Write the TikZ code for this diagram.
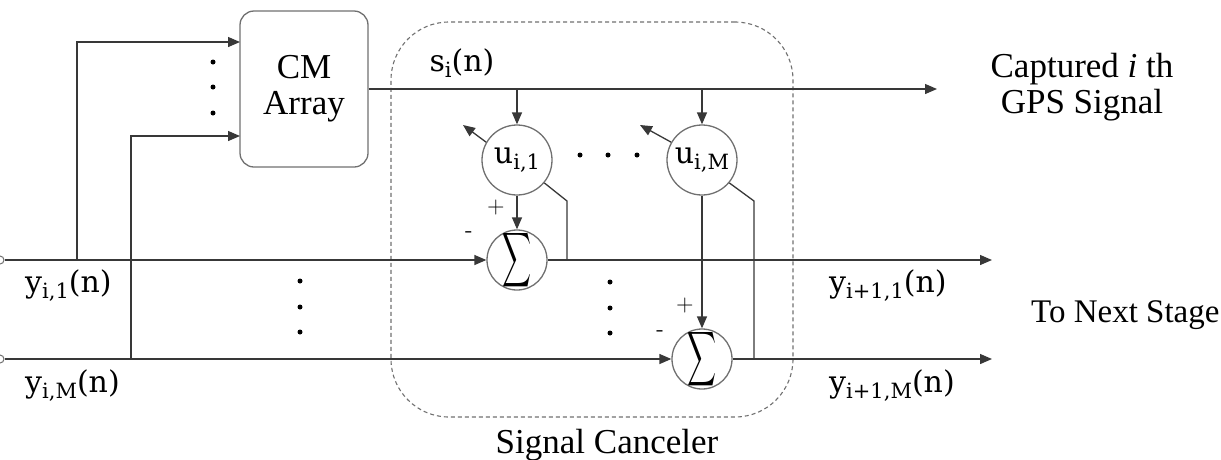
\documentclass[tikz,border=0pt]{standalone}
\usepackage{fontspec}
\setmainfont{Liberation Serif}
\newfontfamily\sigfont{DejaVu Serif}
\usetikzlibrary{arrows.meta}
\definecolor{wire}{HTML}{383838}
\definecolor{rim}{HTML}{707070}
% lowered index used in the signal names
\newcommand\lowidx[1]{\raisebox{-6pt}{\fontsize{21}{21}\selectfont #1}}
\begin{document}
\begin{tikzpicture}[x=1pt,y=-1pt,
  wire/.style={draw=wire, line width=1.3pt},
  arr/.style={wire, -{Triangle[length=12pt,width=10pt]}},
  cmbox/.style={draw=rim, line width=1.3pt, rounded corners=14pt, minimum width=128pt,
    minimum height=156pt, align=center, font=\fontsize{35}{36}\selectfont},
  wcircle/.style={circle, draw=rim, line width=1.3pt, minimum size=70pt, inner sep=0pt,
    font=\sigfont\fontsize{30}{30}\selectfont},
  sumcircle/.style={circle, draw=rim, line width=1.3pt, minimum size=60pt, inner sep=0pt},
  sumsign/.style={inner sep=0pt},
  port/.style={circle, draw=rim, line width=1pt, fill=white, minimum size=8pt, inner sep=0pt},
  lbl/.style={font=\sigfont\fontsize{30}{30}\selectfont, inner sep=0pt},
  txt/.style={font=\fontsize{35}{36}\selectfont, align=center, inner sep=0pt},
  sign/.style={font=\sffamily\fontsize{24}{24}\selectfont, inner sep=0pt},
  dot/.style={circle, fill=black, minimum size=5pt, inner sep=0pt},
  frame/.style={draw=rim, line width=1.1pt, dash pattern=on 4pt off 3pt, rounded corners=58pt}
]
\useasboundingbox (0,0) rectangle (1221,459);

% signal canceler frame
\node[frame, minimum width=402pt, minimum height=395pt] (canc) at (592,219.5) {};
\node[txt] (canclbl) at (607,445) {Signal Canceler};

% CM array block
\node[cmbox] (cm) at (304,89) {CM\\Array};

% weight and summing nodes
\node[wcircle] (u1) at (517,160) {u\lowidx{i,1}};
\node[wcircle] (uM) at (702,160) {u\lowidx{i,M}};
\node[sumcircle] (sum1) at (517,260) {};
\node[sumcircle] (sumM) at (702,359) {};
\node[sumsign] (sg1) at (sum1) {\resizebox{29pt}{40pt}{$\displaystyle\sum$}};
\node[sumsign] (sgM) at (sumM) {\resizebox{29pt}{40pt}{$\displaystyle\sum$}};

% input ports
\node[port] (in1) at (0,260) {};
\node[port] (inM) at (0,359) {};

% helper coordinates
\coordinate (b1) at (77,260);
\coordinate (bM) at (131,359);
\coordinate (cmin1) at (240,42);
\coordinate (cminM) at (240,136);
\coordinate (sout) at (937,89);
\coordinate (out1) at (992,260);
\coordinate (outM) at (992,359);
\coordinate (fb1) at (463,125);
\coordinate (fbM) at (640,125);
\coordinate (t1) at (567,201);
\coordinate (j1) at (567,260);
\coordinate (tM) at (754,201);
\coordinate (jM) at (754,359);

% data lines
\draw[arr] (in1) -- (sum1.west);
\draw[arr] (sum1.east) -- (out1);
\draw[arr] (inM) -- (sumM.west);
\draw[arr] (sumM.east) -- (outM);

% branches into the CM array
\draw[arr] (b1) |- (cmin1);
\draw[arr] (bM) |- (cminM);

% captured signal line and taps
\draw[arr] (cm.east) -- (sout);
\draw[arr] (u1 |- cm.east) -- (u1.north);
\draw[arr] (uM |- cm.east) -- (uM.north);

% weights to summing nodes
\draw[arr] (u1.south) -- (sum1.north);
\draw[arr] (uM.south) -- (sumM.north);

% adaptation feedback
\draw[arr] (u1.150) -- (fb1);
\draw[arr] (uM.150) -- (fbM);
\draw[wire] (u1.-40) -- (t1) -- (j1);
\draw[wire] (uM.-40) -- (tM) -- (jM);

% signs
\node[sign] (p1) at (496,208) {+};
\node[sign] (m1) at (469,235) {-};
\node[sign] (pM) at (685,306) {+};
\node[sign] (mM) at (660,334) {-};

% ellipsis dots
\foreach \yy [count=\k] in {62,87,113} \node[dot] (da\k) at (213,\yy) {};
\foreach \yy [count=\k] in {281,307,332} \node[dot] (db\k) at (300,\yy) {};
\foreach \yy [count=\k] in {282,308,333} \node[dot] (dc\k) at (610,\yy) {};
\foreach \xx [count=\k] in {580,608,637} \node[dot] (dd\k) at (\xx,155) {};

% signal labels
\node[lbl, anchor=west] (ly1) at (25,286) {y\lowidx{i,1}(n)};
\node[lbl, anchor=west] (lyM) at (25,386) {y\lowidx{i,M}(n)};
\node[lbl, anchor=west] (lo1) at (829,286) {y\lowidx{i+1,1}(n)};
\node[lbl, anchor=west] (loM) at (829,386) {y\lowidx{i+1,M}(n)};
\node[lbl] (ls) at (462,63) {s\lowidx{i}(n)};

% output captions
\node[txt] (capt) at (1082,87) {Captured \textit{i} th\\GPS Signal};
\node[txt, anchor=west, font=\fontsize{33}{36}\selectfont] (next) at (1031,315) {To Next Stage};
\end{tikzpicture}
\end{document}
